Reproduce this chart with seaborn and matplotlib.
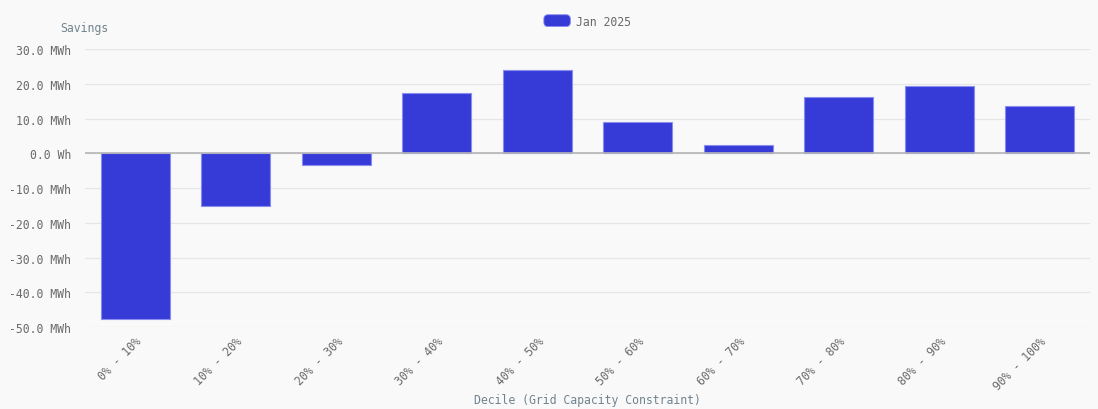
import seaborn as sns
import pandas as pd
import matplotlib.pyplot as plt
from matplotlib.ticker import FuncFormatter
from matplotlib.patches import FancyBboxPatch
from matplotlib.legend_handler import HandlerPatch

# savings per decile, MWh
deciles = ['0% - 10%', '10% - 20%', '20% - 30%', '30% - 40%', '40% - 50%',
           '50% - 60%', '60% - 70%', '70% - 80%', '80% - 90%', '90% - 100%']
savings = [-47.6, -15.1, -3.3, 17.4, 24.0, 9.1, 2.4, 16.2, 19.4, 13.6]
series = 'Jan 2025'

df = pd.DataFrame({'decile': deciles, 'savings': savings, 'month': series})

sns.set_style('white')
plt.rcParams['font.family'] = ['DejaVu Sans Mono']
bg = '#f9f9f9'
blue = '#363bd8'

fig = plt.figure(figsize=(10.98, 4.10), dpi=100, facecolor=bg)
ax = fig.add_axes([0.0774, 0.2, 0.9153, 0.678])
ax.set_facecolor(bg)

sns.barplot(data=df, x='decile', y='savings', hue='month', palette=[blue],
            saturation=1, width=0.69, edgecolor='#8a8df0', linewidth=0.8,
            ax=ax, zorder=3)

ax.set_ylim(-50, 30)
ax.set_yticks(range(-50, 31, 10))
ax.yaxis.set_major_formatter(FuncFormatter(
    lambda v, p: '0.0 Wh' if v == 0 else f'{v:.1f} MWh'))
ax.grid(axis='y', color='#e6e6e6', linewidth=0.9, zorder=0)
ax.axhline(0, color='#b5b5b5', linewidth=1.2, zorder=4)
for s in ax.spines.values():
    s.set_visible(False)

ax.tick_params(axis='both', length=0, labelsize=8.3, colors='#6a6a6a')
ax.tick_params(axis='x', pad=5)
ax.tick_params(axis='y', pad=10)
plt.setp(ax.get_xticklabels(), rotation=45, ha='right', rotation_mode='anchor')

ax.set_ylabel('')
ax.set_xlabel('')
fig.text(0.5353, 0.024, 'Decile (Grid Capacity Constraint)', fontsize=8.3,
         color='#71838f', ha='center', va='center')
fig.text(0.077, 0.93, 'Savings', fontsize=8.3, color='#71838f', ha='center', va='center')


class RoundHandler(HandlerPatch):
    def create_artists(self, legend, orig, xd, yd, w, h, fontsize, trans):
        p = FancyBboxPatch((-xd, -yd), w, h, boxstyle='round,pad=0,rounding_size=3',
                           facecolor=blue, edgecolor='#8a8df0', linewidth=0.6,
                           transform=trans)
        return [p]


handles, labels = ax.get_legend_handles_labels()
leg = ax.legend(handles, labels, loc='lower center', bbox_to_anchor=(0.5, 1.04),
                frameon=False, fontsize=8.3, handlelength=2.3, handleheight=1.2,
                handletextpad=0.5, handler_map={type(handles[0]): RoundHandler()})
for t in leg.get_texts():
    t.set_color('#6a6a6a')

fig.savefig('out.png', dpi=100, facecolor=bg)
